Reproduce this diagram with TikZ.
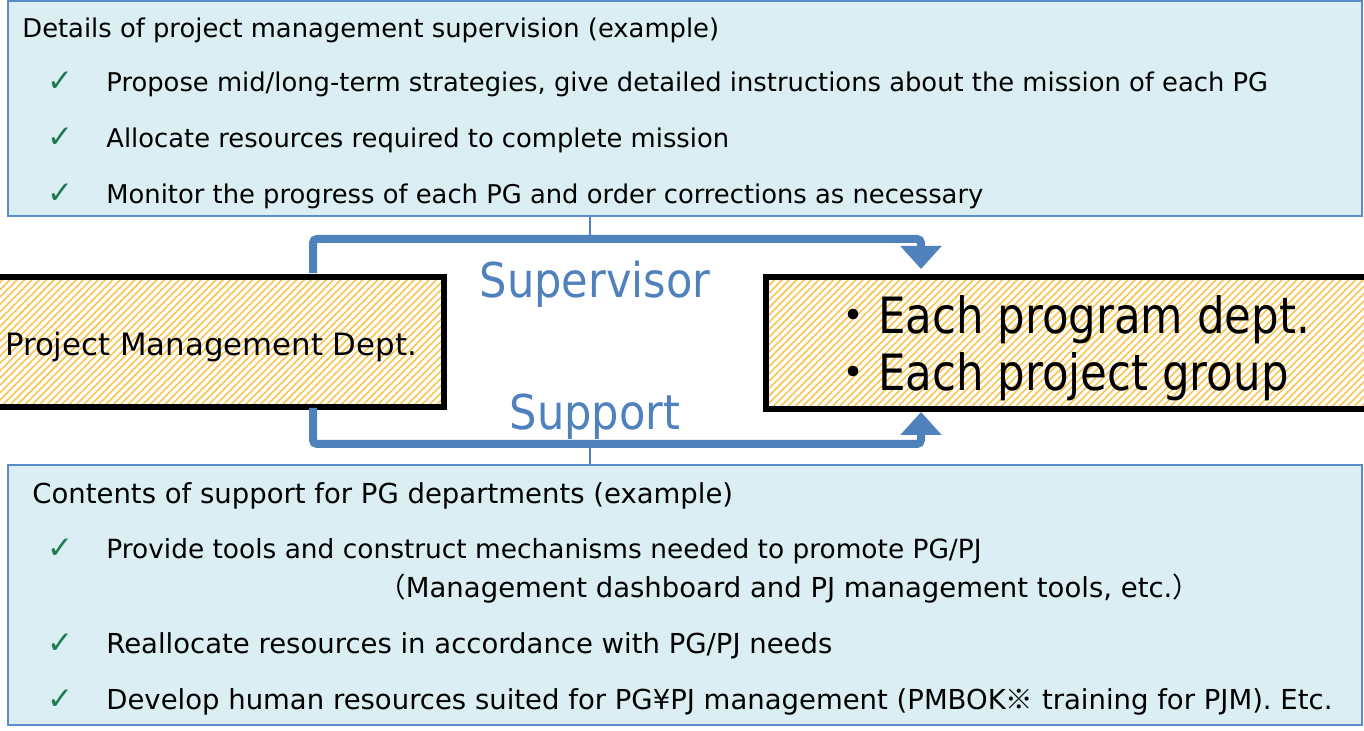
\documentclass[tikz,border=0pt]{standalone}
\usepackage{fontspec}
\setmainfont{DejaVu Sans}
\newfontfamily\narrowsans{DejaVu Sans}[FakeStretch=0.9]
\newfontfamily\narrowersans{DejaVu Sans}[FakeStretch=0.87]
\newfontfamily\cjk{Noto Sans CJK JP}
\usetikzlibrary{calc,arrows.meta,patterns.meta}

\definecolor{panelfill}{HTML}{DAEEF3}
\definecolor{panelline}{HTML}{5B8BC9}
\definecolor{flowblue}{HTML}{4F81BD}
\definecolor{hatchorange}{HTML}{FAC44E}
\definecolor{tickgreen}{HTML}{1E7B50}

\begin{document}
\begin{tikzpicture}[
  x=0.5pt, y=-0.5pt,
  panel/.style={draw=panelline, fill=panelfill, line width=1.2pt, minimum width=677pt, inner sep=0pt},
  dept/.style={draw=black, line width=3pt, preaction={fill=white},
    pattern={Lines[angle=45,distance=2.6pt,line width=0.8pt]}, pattern color=hatchorange, inner sep=0pt},
  flow/.style={draw=flowblue, line width=4pt, rounded corners=2pt, -{Triangle[width=20pt,length=11.5pt]}},
  thinlink/.style={draw=flowblue, line width=0.8pt},
  txt/.style={anchor=base west, inner sep=0pt, font=\fontsize{12.9}{15}\selectfont},
  txtwide/.style={txt, font=\fontsize{13.75}{16}\selectfont},
  tick/.style={anchor=base west, inner sep=0pt, text=tickgreen, font=\fontsize{15.5}{17}\selectfont},
  flowlabel/.style={anchor=base, inner sep=0pt, text=flowblue, font=\narrowsans\fontsize{24}{28}\selectfont}
]
\useasboundingbox[fill=white] (0,0) rectangle (1364,731);

% panels
\node[panel, minimum height=107.5pt] (svbox) at (685,108.5) {};
\node[panel, minimum height=130pt] (spbox) at (685,595) {};

% departments
\node[dept, minimum width=237pt, minimum height=65pt] (pmd) at (207,342) {};
\node[dept, minimum width=307pt, minimum height=66pt] (pgs) at (1073,343) {};
\node[inner sep=0pt, font=\fontsize{15.4}{18}\selectfont] (pmdlbl) at ($(pmd.center)+(4,5)$) {Project Management Dept.};
\node[inner sep=0pt, align=left, font=\narrowersans\fontsize{25}{28.5}\selectfont] (pgslbl) at ($(pgs.center)+(-4,5)$)
  {{\cjk ・}Each program dept.\\{\cjk ・}Each project group};

% bends
\coordinate (supL) at (313,239);
\coordinate (supR) at (921,239);
\coordinate (suppL) at (313,444);
\coordinate (suppR) at (921,444);

\draw[thinlink] (svbox.south -| 590,0) -- (590,239);
\draw[thinlink] (590,444) -- (spbox.north -| 590,0);

\draw[flow] ($(pmd.north -| supL)+(0,-3)$) -- (supL) -- (supR) -- ($(pgs.north -| supR)+(0,-5)$);
\draw[flow] (pmd.south -| suppL) -- (suppL) -- (suppR) -- (pgs.south -| suppR);

\node[flowlabel] (lblsv) at (595,298) {Supervisor};
\node[flowlabel] (lblsp) at (595,430) {Support};

% supervision
\node[txt] (svtitle) at (22,38) {Details of project management supervision (example)};
\node[txt] (sv1) at (106,92) {Propose mid/long-term strategies, give detailed instructions about the mission of each PG};
\node[txt] (sv2) at (106,148) {Allocate resources required to complete mission};
\node[txt] (sv3) at (106,204) {Monitor the progress of each PG and order corrections as necessary};

% support
\node[txtwide] (sptitle) at (32,503) {Contents of support for PG departments (example)};
\node[txt, font=\fontsize{13.2}{16}\selectfont] (sp1) at (106,558) {Provide tools and construct mechanisms needed to promote PG/PJ};
\node[txtwide] (sp1b) at (378,597) {{\cjk （}Management dashboard and PJ management tools, etc.{\cjk ）}};
\node[txtwide] (sp2) at (106,653) {Reallocate resources in accordance with PG/PJ needs};
\node[txtwide] (sp3) at (106,709) {Develop human resources suited for PG¥PJ management (PMBOK{\cjk ※} training for PJM). Etc.};

\foreach \y in {92,148,204,558,653,709}
  \node[tick] (tk\y) at (47,\y) {✓};
\end{tikzpicture}
\end{document}
